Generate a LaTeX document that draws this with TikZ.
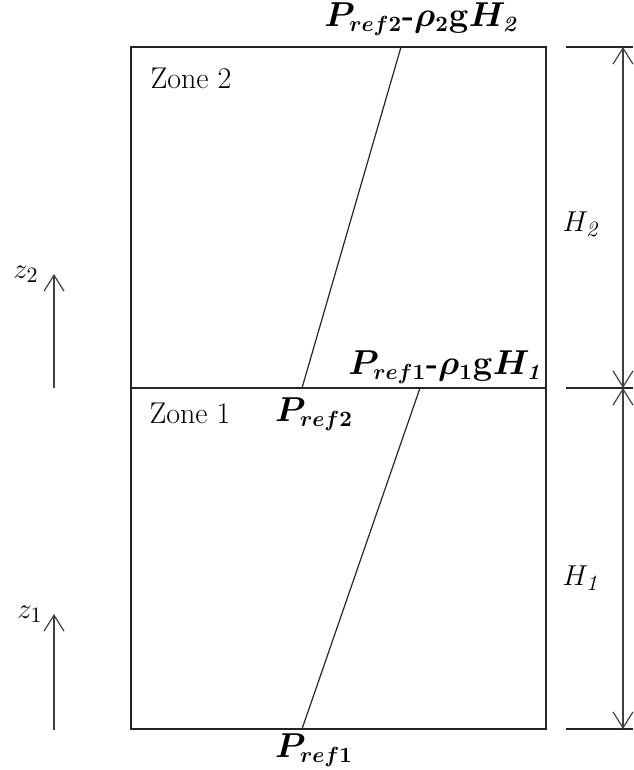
\documentclass[tikz,border=0pt]{standalone}
\usepackage{bm}
\usetikzlibrary{arrows.meta}
\tikzset{
  wall/.style={draw=black!85, line width=0.6pt},
  dimline/.style={draw=black!75, line width=0.6pt,
    {Straight Barb[length=8pt,width=10pt]}-{Straight Barb[length=8pt,width=10pt]}},
  axisarrow/.style={draw=black!75, line width=0.6pt,
    -{Straight Barb[length=8pt,width=10pt]}},
  zonelabel/.style={font=\fontsize{15}{18}\selectfont},
  plabel/.style={font=\fontsize{16}{19}\selectfont\bfseries},
  dimlabel/.style={font=\fontsize{15}{18}\selectfont},
}
\begin{document}
\begin{tikzpicture}[x=0.5pt,y=-0.5pt]
        \useasboundingbox (0,0) rectangle (633,770);
        % Recipiente
        \coordinate (tl) at (131,47);
        \coordinate (br) at (546,729);
        \coordinate (ml) at (131,388);
        \coordinate (mr) at (546,388);
        \draw[wall] (tl) rectangle (br);
        \draw[wall] (ml) -- (mr);

        % Perfiles de presion
        \coordinate (p2top) at (401,47);
        \coordinate (p2bot) at (302,388);
        \coordinate (p1top) at (420,388);
        \coordinate (p1bot) at (302,729);
        \draw[wall] (p2top) -- (p2bot);
        \draw[wall] (p1top) -- (p1bot);

        % Cotas
        \foreach \y in {47,388,729}
            \draw[wall] (566,\y) -- (633,\y);
        \coordinate (dtop) at (623,47);
        \coordinate (dmid) at (623,388);
        \coordinate (dbot) at (623,729);
        \draw[dimline] (dtop) -- (dmid);
        \draw[dimline] (dmid) -- (dbot);
        \node[dimlabel] (htwo) at (582,224) {$H_{\mathit{2}}$};
        \node[dimlabel] (hone) at (582,578) {$H_{\mathit{1}}$};

        % Ejes z
        \coordinate (ztwobase) at (54,388);
        \coordinate (ztwotip) at (54,274);
        \coordinate (zonebase) at (54,730);
        \coordinate (zonetip) at (54,614);
        \draw[axisarrow] (ztwobase) -- (ztwotip);
        \draw[axisarrow] (zonebase) -- (zonetip);
        \node[dimlabel] (ztwo) at (26,274) {$z_2$};
        \node[dimlabel] (zone) at (30,614) {$z_1$};

        % Rotulos
        \node[zonelabel] (zonetwo) at (191,78) {Zone 2};
        \node[zonelabel] (zoneone) at (190,413) {Zone 1};
        \node[plabel] (ptop) at (422,19) {$\bm{P_{ref2}}$-$\bm{\rho_2}\mathbf{g}\bm{H_{\mathit{2}}}$};
        \node[plabel] (pmid) at (446,367) {$\bm{P_{ref1}}$-$\bm{\rho_1}\mathbf{g}\bm{H_{\mathit{1}}}$};
        \node[plabel] (prefb) at (314,414) {$\bm{P_{ref2}}$};
        \node[plabel] (prefa) at (314,750) {$\bm{P_{ref1}}$};
    \end{tikzpicture}
\end{document}
